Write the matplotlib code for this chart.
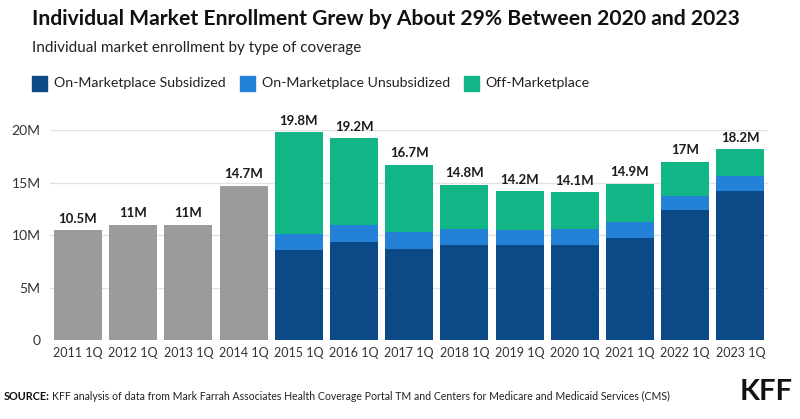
import numpy as np
import matplotlib
matplotlib.use("Agg")
import matplotlib.pyplot as plt
from matplotlib.patches import Rectangle

years = ["2011 1Q", "2012 1Q", "2013 1Q", "2014 1Q", "2015 1Q", "2016 1Q", "2017 1Q",
         "2018 1Q", "2019 1Q", "2020 1Q", "2021 1Q", "2022 1Q", "2023 1Q"]
pre_aca = [10.5, 11.0, 11.0, 14.7]
subsidized = [8.6, 9.3, 8.7, 9.1, 9.1, 9.1, 9.7, 12.4, 14.2]
unsubsidized = [1.5, 1.7, 1.6, 1.5, 1.4, 1.5, 1.5, 1.3, 1.4]
off_market = [9.7, 8.2, 6.4, 4.2, 3.7, 3.5, 3.7, 3.3, 2.6]
totals = ["10.5M", "11M", "11M", "14.7M", "19.8M", "19.2M", "16.7M",
          "14.8M", "14.2M", "14.1M", "14.9M", "17M", "18.2M"]

c_sub = "#0b4a87"
c_unsub = "#2381d8"
c_off = "#12b586"
c_gray = "#9b9b9b"

plt.rcParams['font.family'] = ['Lato', 'DejaVu Sans']

fig = plt.figure(figsize=(8, 4.19), dpi=100)
ax = fig.add_axes([0.063, 0.1885, 0.897, 0.501])

x = np.arange(len(years))
w = 0.87
ax.bar(x[:4], pre_aca, width=w, color=c_gray)
xs = x[4:]
sub = np.array(subsidized)
uns = np.array(unsubsidized)
off = np.array(off_market)
ax.bar(xs, sub, width=w, color=c_sub)
ax.bar(xs, uns, width=w, bottom=sub, color=c_unsub)
ax.bar(xs, off, width=w, bottom=sub + uns, color=c_off)

tops = list(pre_aca) + list(sub + uns + off)
for xi, t, lab in zip(x, tops, totals):
    ax.text(xi, t + 0.5, lab, ha="center", va="bottom", fontsize=9.5,
            fontweight="bold", color="#1a1a1a", clip_on=False)

ax.set_xlim(-0.5, len(years) - 0.5)
ax.set_ylim(0, 20)
ax.set_yticks([0, 5, 10, 15, 20])
ax.set_yticklabels(["0", "5M", "10M", "15M", "20M"])
ax.set_xticks(x)
ax.set_xticklabels(years)
ax.tick_params(axis="both", length=0, colors="#333333")
ax.tick_params(axis="x", pad=5, labelsize=9)
ax.tick_params(axis="y", pad=7, labelsize=10)
ax.yaxis.grid(True, color="#e2e2e2", linewidth=1)
ax.set_axisbelow(True)
for s in ax.spines.values():
    s.set_visible(False)

fig.text(0.04, 0.955, "Individual Market Enrollment Grew by About 29% Between 2020 and 2023",
         fontsize=15.2, fontweight="bold", color="#111111", va="center")
fig.text(0.04, 0.885, "Individual market enrollment by type of coverage",
         fontsize=11, color="#222222", va="center")

renderer = fig.canvas.get_renderer()
W, H = fig.bbox.width, fig.bbox.height

# legend row
lx = 32
for lab, col in [("On-Marketplace Subsidized", c_sub),
                 ("On-Marketplace Unsubsidized", c_unsub),
                 ("Off-Marketplace", c_off)]:
    fig.patches.append(Rectangle((lx / W, 0.784), 15 / W, 15 / H, transform=fig.transFigure,
                                 color=col, figure=fig))
    t = fig.text((lx + 22) / W, 0.803, lab, fontsize=10.2, color="#222222", va="center")
    bb = t.get_window_extent(renderer)
    lx = bb.x1 + 14

s1 = fig.text(0.004, 0.053, "SOURCE:", fontsize=7.8, fontweight="bold", color="#111111", va="center")
bb = s1.get_window_extent(renderer)
fig.text((bb.x1 + 3) / W, 0.053, "KFF analysis of data from Mark Farrah Associates Health Coverage Portal TM "
         "and Centers for Medicare and Medicaid Services (CMS)",
         fontsize=7.6, color="#222222", va="center")
fig.text(0.924, 0.064, "KFF", fontsize=21, fontweight="bold", color="#111111", va="center")

fig.savefig("out.png", dpi=100, facecolor="white")
